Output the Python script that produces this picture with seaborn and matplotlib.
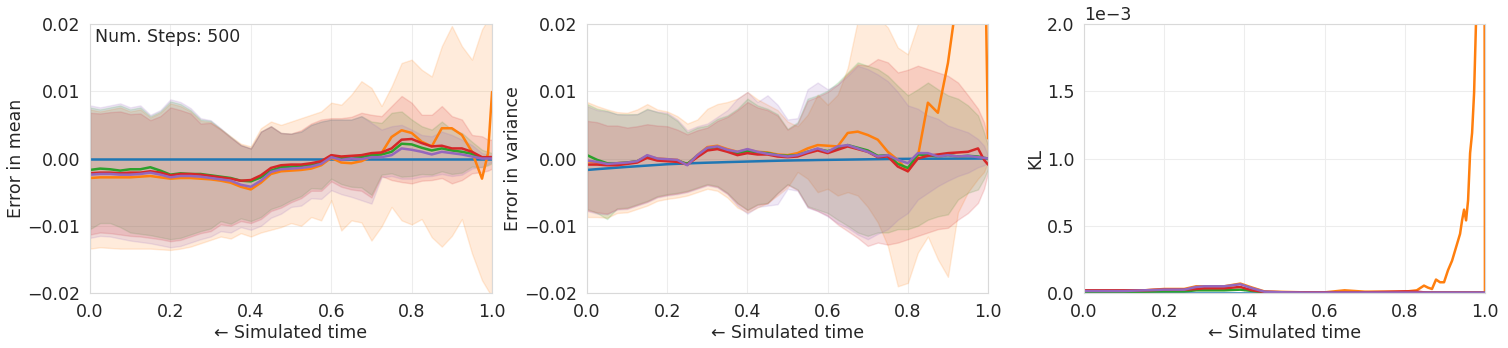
import numpy as np
import pandas as pd
import matplotlib
matplotlib.use("Agg")
from matplotlib import pyplot as plt
import seaborn as sns

################################################################################
# DATA (values in units of 1e-3)

series_names = ["blue", "orange", "green", "red", "purple"]
series_colors = ["tab:blue", "tab:orange", "tab:green", "tab:red", "tab:purple"]

# shared time grid for the mean / variance panels
t = [0.0, 0.025, 0.05, 0.075, 0.1, 0.125, 0.15, 0.175, 0.2, 0.225, 0.25,
     0.275, 0.3, 0.325, 0.35, 0.375, 0.4, 0.425, 0.45, 0.475, 0.5,
     0.525, 0.55, 0.575, 0.6, 0.625, 0.65, 0.675, 0.7, 0.725, 0.75,
     0.775, 0.8, 0.825, 0.85, 0.875, 0.9, 0.925, 0.95, 0.975, 0.99, 1.0]

# --- error in mean ---
mean_blue = [0.0] * 42
mean_green = [-1.7, -1.5, -1.6, -1.8, -1.6, -1.6, -1.3, -1.8, -2.4, -2.2, -2.3,
              -2.3, -2.5, -2.7, -2.9, -3.3, -3.4, -2.8, -1.8, -1.3, -1.2,
              -1.1, -0.9, -0.6, 0.4, 0.1, 0.3, 0.2, 0.5, 0.6, 1.0,
              2.2, 2.1, 1.6, 1.2, 1.5, 1.2, 1.0, 0.7, 0.1, 0.1, 0.1]
mean_red = [-2.2, -2.1, -2.1, -2.2, -2.1, -2.1, -1.9, -2.1, -2.5, -2.3, -2.3,
            -2.4, -2.6, -2.8, -3.0, -3.3, -3.2, -2.5, -1.4, -1.0, -0.9,
            -0.9, -0.7, -0.4, 0.5, 0.3, 0.4, 0.5, 0.8, 0.9, 1.5,
            2.8, 2.9, 2.3, 1.8, 1.9, 1.5, 1.5, 1.0, 0.2, 0.2, 0.2]
mean_purple = [-2.4, -2.3, -2.3, -2.4, -2.4, -2.3, -2.1, -2.4, -2.8, -2.6, -2.6,
               -2.7, -2.9, -3.1, -3.3, -3.9, -4.2, -3.3, -2.0, -1.6, -1.5,
               -1.4, -1.2, -0.8, 0.2, -0.2, 0.0, -0.1, 0.2, 0.2, 0.5,
               1.5, 1.3, 1.0, 0.6, 1.0, 0.8, 0.6, 0.3, 0.0, 0.0, 0.0]
mean_orange = [-2.9, -2.8, -2.8, -2.8, -2.8, -2.7, -2.6, -2.8, -3.0, -2.9, -2.9,
               -3.0, -3.1, -3.3, -3.6, -4.2, -4.6, -3.6, -2.3, -1.9, -1.8,
               -1.7, -1.5, -1.0, 0.1, -0.6, -0.7, -0.4, 0.3, 0.8, 3.2,
               4.2, 3.8, 2.5, 1.8, 4.5, 4.5, 3.5, 1.0, -3.0, 0.8, 9.9]

mean_green_hi = [7.6, 7.3, 7.6, 7.9, 7.3, 7.6, 6.3, 7.0, 8.5, 8.1, 7.2,
                 5.8, 5.6, 4.4, 3.2, 2.0, 1.5, 4.0, 4.8, 3.8, 3.7,
                 4.0, 5.0, 5.5, 5.8, 5.8, 5.8, 6.3, 5.5, 5.3, 6.8,
                 7.0, 5.8, 4.8, 4.3, 5.5, 4.3, 3.8, 2.5, 1.3, 1.0, 0.8]
mean_red_hi = [6.8, 6.7, 6.9, 7.0, 6.6, 6.7, 5.7, 6.3, 7.6, 7.2, 6.7,
               5.2, 5.3, 4.3, 3.1, 2.0, 1.5, 4.0, 4.8, 3.8, 3.7,
               4.2, 5.2, 5.8, 6.0, 6.0, 6.2, 6.8, 6.5, 6.3, 7.8,
               9.3, 8.3, 6.5, 6.5, 7.8, 6.3, 5.8, 3.5, 3.3, 2.8, 2.8]
mean_purple_hi = [7.9, 7.6, 7.9, 8.2, 7.6, 7.9, 6.5, 7.2, 8.8, 8.4, 7.5,
                  6.0, 5.7, 4.5, 3.2, 2.0, 1.5, 4.0, 4.8, 3.8, 3.7,
                  4.0, 5.0, 5.5, 5.8, 5.8, 5.8, 6.3, 5.3, 4.3, 4.8,
                  5.0, 4.3, 3.5, 3.3, 4.0, 3.5, 2.8, 2.0, 0.8, 0.6, 0.5]
mean_orange_hi = [7.3, 7.0, 7.3, 7.6, 7.0, 7.3, 6.1, 6.8, 8.2, 7.8, 7.0,
                  5.6, 5.4, 4.4, 3.3, 2.2, 1.8, 4.5, 5.5, 5.0, 5.5,
                  6.0, 6.5, 7.0, 8.3, 8.0, 9.5, 11.5, 10.5, 7.8, 10.7,
                  14.2, 14.7, 13.2, 12.2, 16.7, 19.7, 16.7, 14.7, 19.2, 20.7, 21.0]

mean_green_lo = [-10.5, -9.6, -9.6, -10.2, -11.0, -11.2, -11.4, -11.7, -12.0, -11.8, -11.3,
                 -10.8, -10.4, -9.3, -9.7, -8.9, -9.3, -8.7, -7.5, -7.0, -6.2,
                 -5.6, -4.4, -4.5, -3.0, -3.8, -4.2, -4.3, -5.4, -2.4, -2.2,
                 -2.7, -2.6, -2.3, -2.4, -1.9, -2.3, -2.1, -1.2, -1.3, -1.0, -0.7]
mean_red_lo = [-11.3, -11.0, -11.1, -11.3, -11.5, -11.6, -11.8, -12.0, -12.3, -12.1, -11.6,
               -11.1, -10.8, -9.8, -10.0, -9.3, -9.6, -9.0, -7.8, -7.3, -6.5,
               -5.9, -4.8, -4.8, -3.4, -4.2, -4.6, -4.8, -5.8, -2.6, -3.2,
               -3.5, -3.7, -3.3, -3.2, -2.9, -3.7, -3.2, -2.2, -2.0, -1.8, -1.5]
mean_purple_lo = [-11.8, -11.5, -11.6, -11.9, -12.2, -12.4, -12.6, -12.9, -13.2, -13.0, -12.5,
                  -12.0, -11.6, -10.8, -11.0, -10.2, -10.6, -10.0, -8.8, -8.2, -7.2,
                  -7.0, -5.9, -6.0, -4.7, -5.3, -5.7, -6.2, -6.7, -2.8, -2.6,
                  -3.0, -3.0, -2.7, -2.6, -2.3, -2.6, -2.4, -1.5, -1.2, -0.8, -0.5]
mean_orange_lo = [-13.4, -13.2, -13.3, -13.4, -13.4, -13.4, -13.4, -13.5, -13.6, -13.4, -13.1,
                  -12.6, -12.1, -11.6, -11.9, -11.1, -11.6, -11.0, -10.6, -10.2, -9.6,
                  -10.0, -8.7, -9.2, -6.2, -10.7, -9.2, -9.5, -12.2, -10.1, -7.2,
                  -9.2, -9.8, -9.0, -11.7, -13.1, -11.5, -9.0, -14.1, -18.1, -19.6, -20.6]

# --- error in variance ---
var_blue = [-1.7, -1.58, -1.47, -1.36, -1.25, -1.15, -1.05, -0.95, -0.85, -0.79, -0.73,
            -0.67, -0.62, -0.58, -0.53, -0.49, -0.45, -0.41, -0.37, -0.33, -0.3,
            -0.27, -0.25, -0.22, -0.2, -0.18, -0.16, -0.14, -0.12, -0.1, -0.08,
            -0.06, -0.05, -0.04, -0.03, -0.025, -0.02, -0.015, -0.01, -0.005, 0.0, 0.0]
var_green = [0.5, -0.2, -0.7, -0.7, -0.6, -0.4, 0.3, -0.1, -0.2, -0.3, -0.8,
             0.4, 1.5, 1.7, 1.2, 0.8, 1.1, 0.9, 0.8, 0.5, 0.4,
             0.5, 1.0, 1.4, 1.1, 1.5, 2.0, 1.6, 1.2, 0.4, 0.5,
             -0.8, -1.4, 0.6, 0.5, 0.3, 0.5, 0.3, 0.4, 0.3, 0.1, 0.0]
var_red = [-0.9, -0.9, -1.0, -1.0, -0.8, -0.6, 0.1, -0.3, -0.4, -0.5, -0.9,
           0.2, 1.2, 1.4, 1.0, 0.5, 0.8, 0.6, 0.6, 0.3, 0.2,
           0.3, 0.8, 1.2, 0.8, 1.3, 1.8, 1.4, 1.0, 0.2, 0.3,
           -1.2, -1.9, 0.0, 0.4, 0.6, 0.8, 0.9, 1.0, 1.5, -0.2, -0.9]
var_purple = [-0.3, -0.5, -0.8, -0.7, -0.6, -0.4, 0.5, 0.0, -0.1, -0.2, -1.0,
              0.5, 1.6, 1.8, 1.3, 1.0, 1.4, 1.0, 0.7, 0.5, 0.3,
              0.5, 1.0, 1.5, 1.0, 1.8, 2.0, 1.5, 1.0, 0.3, 0.5,
              -0.2, -0.7, 0.8, 0.8, 0.3, 0.5, 0.3, 0.4, 0.2, 0.1, 0.0]
var_orange = [-0.4, -0.6, -0.8, -0.7, -0.6, -0.4, 0.4, 0.0, -0.1, -0.2, -0.9,
              0.5, 1.7, 1.9, 1.4, 1.0, 1.3, 1.0, 0.9, 0.6, 0.5,
              0.8, 1.5, 2.0, 1.9, 1.8, 3.8, 4.0, 3.5, 2.8, 1.0,
              -0.2, -1.9, 0.3, 8.3, 6.8, 14.2, 25.0, 30.0, 35.0, 40.0, 3.0]

var_green_hi = [8.1, 7.4, 7.1, 6.6, 6.6, 6.6, 7.4, 6.9, 6.6, 5.6, 3.9,
                4.6, 4.9, 5.9, 6.4, 7.4, 8.9, 7.9, 7.4, 6.6, 4.4,
                5.4, 8.9, 9.4, 10.1, 11.3, 12.8, 14.3, 13.8, 13.3, 12.3,
                10.8, 9.4, 10.3, 11.3, 10.3, 9.4, 8.9, 7.9, 6.4, 3.9, 1.9]
var_red_hi = [5.6, 5.4, 4.9, 4.9, 4.6, 4.8, 5.1, 4.9, 4.8, 4.3, 3.6,
              4.2, 4.6, 5.6, 6.2, 7.2, 8.4, 7.6, 7.2, 6.4, 4.3,
              5.2, 8.6, 9.2, 9.9, 11.0, 12.6, 14.0, 13.8, 14.8, 14.3,
              12.8, 13.2, 13.8, 13.3, 12.8, 12.3, 11.3, 9.4, 7.4, 5.4, 2.9]
var_purple_hi = [7.8, 7.2, 7.0, 6.6, 6.5, 6.6, 7.3, 7.0, 6.8, 5.8, 4.2,
                 4.8, 5.2, 6.2, 7.2, 8.9, 9.9, 8.4, 9.4, 8.0, 5.8,
                 6.0, 10.3, 11.3, 10.3, 11.0, 12.3, 13.8, 13.3, 12.5, 11.5,
                 9.9, 7.9, 7.4, 6.4, 5.9, 4.9, 4.4, 3.9, 2.9, 1.9, 0.4]
var_orange_hi = [8.4, 7.8, 7.3, 6.9, 6.8, 7.3, 8.1, 7.3, 7.0, 6.3, 5.2,
                 5.8, 7.4, 8.1, 8.4, 8.9, 9.9, 8.8, 8.0, 7.2, 5.5,
                 4.8, 6.5, 9.5, 8.0, 9.5, 13.5, 20.5, 22.0, 21.0, 19.5,
                 16.5, 15.5, 20.0, 25.0, 26.0, 27.0, 28.0, 29.0, 30.0, 30.0, 30.0]

var_green_lo = [-7.5, -8.1, -9.0, -7.4, -7.3, -6.8, -6.3, -5.6, -5.3, -5.1, -4.8,
                -4.3, -3.8, -4.1, -5.1, -6.6, -7.6, -6.8, -6.6, -5.1, -3.8,
                -4.6, -7.1, -7.6, -8.1, -9.1, -10.0, -11.0, -11.5, -11.0, -11.0,
                -10.5, -10.5, -10.0, -9.1, -8.6, -8.3, -6.1, -5.1, -4.6, -3.0, -1.6]
var_red_lo = [-7.7, -8.0, -8.2, -7.5, -7.4, -6.9, -6.4, -5.7, -5.4, -5.2, -4.9,
              -4.4, -3.9, -4.2, -5.2, -6.7, -7.7, -6.9, -6.7, -5.2, -3.9,
              -4.7, -7.2, -7.8, -8.5, -9.8, -10.8, -11.8, -13.0, -12.5, -12.8,
              -12.5, -12.0, -11.5, -11.0, -10.5, -10.3, -9.1, -8.1, -6.6, -4.5, -2.1]
var_purple_lo = [-7.8, -8.2, -8.3, -7.6, -7.5, -7.0, -6.5, -5.8, -5.5, -5.3, -5.0,
                 -4.5, -4.0, -4.3, -5.3, -7.0, -8.2, -7.2, -7.0, -6.8, -4.5,
                 -4.8, -7.3, -7.8, -8.6, -9.6, -10.3, -11.3, -12.0, -11.2, -10.5,
                 -9.1, -8.1, -6.1, -5.1, -4.1, -3.3, -2.6, -2.1, -1.3, -1.0, -0.6]
var_orange_lo = [-8.7, -8.7, -8.8, -8.1, -8.0, -7.5, -7.0, -6.3, -6.0, -5.8, -5.5,
                 -5.0, -4.5, -4.8, -5.8, -7.3, -8.0, -7.3, -6.6, -5.5, -4.3,
                 -2.0, -3.0, -5.0, -4.5, -5.5, -5.0, -5.5, -7.2, -9.5, -13.0,
                 -19.0, -18.5, -14.0, -11.6, -15.0, -17.6, -8.0, -5.0, -3.0, -2.0, -0.5]

# --- KL (own grid, finer towards the end) ---
t_kl = [0.0, 0.05, 0.1, 0.15, 0.2, 0.25, 0.28, 0.3, 0.35, 0.39, 0.42, 0.45,
        0.5, 0.55, 0.6, 0.65, 0.7, 0.75, 0.8,
        0.83, 0.848, 0.858, 0.868, 0.878, 0.888, 0.898, 0.908, 0.918, 0.928,
        0.938, 0.943, 0.948, 0.953, 0.958, 0.963, 0.968, 0.973, 0.978,
        0.985, 0.992, 0.997, 1.0]
kl_blue = [0.0] * 42
kl_orange = [0.02, 0.02, 0.02, 0.02, 0.03, 0.03, 0.05, 0.05, 0.05, 0.07, 0.04, 0.012,
             0.008, 0.005, 0.005, 0.02, 0.01, 0.01, 0.01,
             0.02, 0.055, 0.04, 0.03, 0.1, 0.08, 0.08, 0.17, 0.24, 0.34,
             0.44, 0.54, 0.62, 0.54, 0.69, 1.04, 1.19, 1.49, 2.04,
             4.0, 6.0, 8.0, 0.0]
kl_green = [0.01, 0.01, 0.01, 0.01, 0.012, 0.012, 0.02, 0.02, 0.02, 0.025, 0.015, 0.006,
            0.004, 0.003, 0.003, 0.003, 0.003, 0.003, 0.004,
            0.004, 0.003, 0.003, 0.003, 0.003, 0.003, 0.003, 0.003, 0.003, 0.003,
            0.003, 0.003, 0.003, 0.003, 0.003, 0.003, 0.003, 0.003, 0.003,
            0.003, 0.003, 0.003, 0.003]
kl_red = [0.02, 0.02, 0.02, 0.02, 0.025, 0.025, 0.03, 0.035, 0.035, 0.045, 0.02, 0.008,
          0.005, 0.005, 0.005, 0.005, 0.005, 0.008, 0.012,
          0.01, 0.005, 0.004, 0.004, 0.004, 0.004, 0.004, 0.004, 0.004, 0.004,
          0.004, 0.004, 0.004, 0.004, 0.004, 0.004, 0.004, 0.004, 0.004,
          0.004, 0.004, 0.004, 0.004]
kl_purple = [0.015, 0.015, 0.015, 0.02, 0.025, 0.025, 0.045, 0.05, 0.05, 0.065, 0.035, 0.01,
             0.005, 0.003, 0.003, 0.003, 0.003, 0.003, 0.003,
             0.003, 0.003, 0.003, 0.003, 0.003, 0.003, 0.003, 0.003, 0.003, 0.003,
             0.003, 0.003, 0.003, 0.003, 0.003, 0.003, 0.003, 0.003, 0.003,
             0.003, 0.003, 0.003, 0.003]

################################################################################
# PLOTTING

sns.set_style("whitegrid", {"axes.edgecolor": ".85", "grid.color": ".93"})
plt.rcParams["font.family"] = ["DejaVu Sans"]
plt.rcParams["font.size"] = 12.5

E3 = 1e-3  # data above is written in units of 1e-3


def long_frame(x, columns):
    # tidy frame for seaborn: one row per (series, time)
    parts = []
    for name, vals in zip(series_names, columns):
        parts.append(pd.DataFrame({"t": x, "val": np.array(vals) * E3, "series": name}))
    return pd.concat(parts, ignore_index=True)


def draw_panel(ax, x, lines, bands, ylabel):
    # bands: orange, green, red, purple (low, high)
    for (lo, hi), c in zip(bands, series_colors[1:]):
        ax.fill_between(x, np.array(lo) * E3, np.array(hi) * E3, color=c, alpha=0.15, lw=1)
    df = long_frame(x, lines)
    sns.lineplot(data=df, x="t", y="val", hue="series", hue_order=series_names,
                 palette=series_colors, lw=1.8, legend=False, ax=ax, sort=False)
    ax.set_xlim(0, 1)
    ax.set_xticks([0.0, 0.2, 0.4, 0.6, 0.8, 1.0])
    ax.set_xlabel("\u2190 Simulated time", labelpad=2)
    ax.set_ylabel(ylabel, labelpad=2)


fig = plt.figure(figsize=(15.08, 3.48), dpi=100)
ax1 = fig.add_axes([0.0597, 0.158, 0.2666, 0.773])
ax2 = fig.add_axes([0.3893, 0.158, 0.2659, 0.773])
ax3 = fig.add_axes([0.7188, 0.158, 0.2659, 0.773])

draw_panel(ax1, t,
           [mean_blue, mean_orange, mean_green, mean_red, mean_purple],
           [(mean_orange_lo, mean_orange_hi), (mean_green_lo, mean_green_hi),
            (mean_red_lo, mean_red_hi), (mean_purple_lo, mean_purple_hi)],
           "Error in mean")
ax1.set_ylim(-0.02, 0.02)
ax1.set_yticks([-0.02, -0.01, 0.0, 0.01, 0.02])
ax1.text(0.012, 0.985, "Num. Steps: 500", transform=ax1.transAxes,
         ha="left", va="top", color=".15")

draw_panel(ax2, t,
           [var_blue, var_orange, var_green, var_red, var_purple],
           [(var_orange_lo, var_orange_hi), (var_green_lo, var_green_hi),
            (var_red_lo, var_red_hi), (var_purple_lo, var_purple_hi)],
           "Error in variance")
ax2.set_ylim(-0.02, 0.02)
ax2.set_yticks([-0.02, -0.01, 0.0, 0.01, 0.02])

df_kl = long_frame(t_kl, [kl_blue, kl_orange, kl_green, kl_red, kl_purple])
sns.lineplot(data=df_kl, x="t", y="val", hue="series", hue_order=series_names,
             palette=series_colors, lw=1.8, legend=False, ax=ax3, sort=False)
ax3.set_xlim(0, 1)
ax3.set_xticks([0.0, 0.2, 0.4, 0.6, 0.8, 1.0])
ax3.set_ylim(0, 0.002)
ax3.set_yticks([0.0, 0.0005, 0.001, 0.0015, 0.002])
ax3.ticklabel_format(axis="y", style="sci", scilimits=(0, 0))
ax3.set_xlabel("\u2190 Simulated time", labelpad=2)
ax3.set_ylabel("KL", labelpad=2)

plt.savefig("out.png", dpi=100)
plt.close()
